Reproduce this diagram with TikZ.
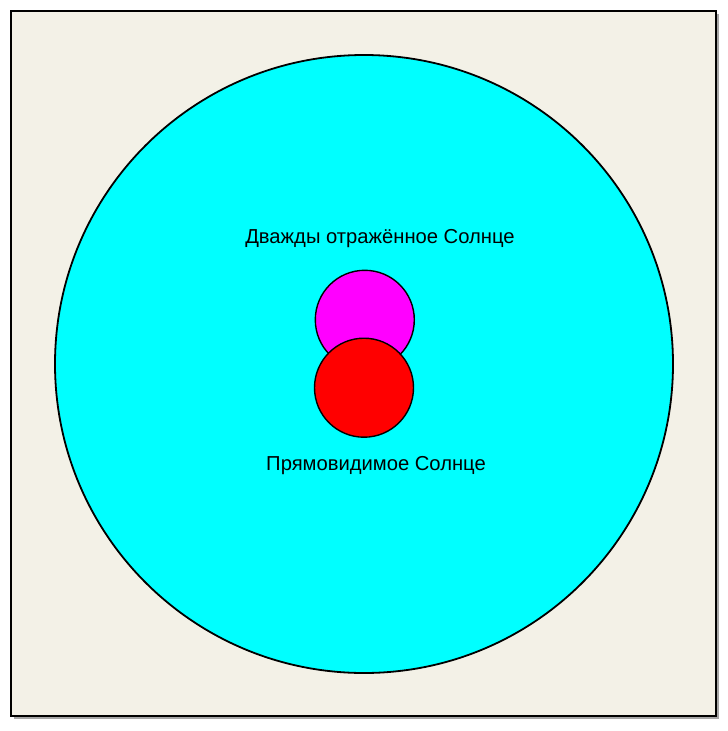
\documentclass[tikz,border=0pt]{standalone}
\usepackage{fontspec}
\setmainfont{Liberation Sans}
\definecolor{bgbeige}{HTML}{F3F1E7}
\definecolor{skyc}{HTML}{00FFFF}
\definecolor{magc}{HTML}{FF00FF}
\definecolor{redc}{HTML}{FF0000}
\begin{document}
\begin{tikzpicture}[x=1pt,y=-1pt,
  disc/.style={circle,draw=black,line width=1.4pt,inner sep=0pt},
  lbl/.style={font=\fontsize{20.2}{23}\selectfont,text=black,inner sep=0pt}]
\useasboundingbox (0,0) rectangle (728,731);
\fill[white] (0,0) rectangle (728,731);
\fill[black!35] (14,14) rectangle (719,719);
\node[draw=black,line width=2pt,fill=bgbeige,minimum width=705pt,minimum height=705pt,inner sep=0pt] (frame) at (363.5,363.5) {};
\node[disc,fill=skyc,minimum size=618pt,line width=1.8pt] (sky) at (364,364) {};
\node[disc,fill=magc,minimum size=99pt] (twice) at (364.8,319.8) {};
\node[disc,fill=redc,minimum size=99pt] (direct) at (364,387.7) {};
\node[lbl] (ltwice) at (380,239) {Дважды отражённое Солнце};
\node[lbl] (ldirect) at (376,466) {Прямовидимое Солнце};
\end{tikzpicture}
\end{document}
